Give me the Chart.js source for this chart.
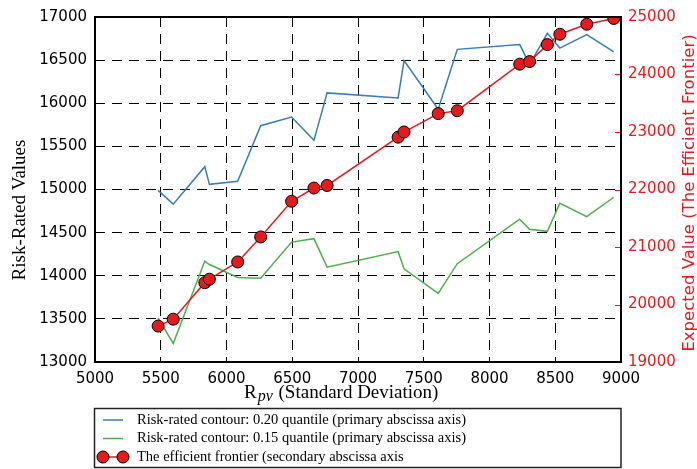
<!DOCTYPE html>
<html>
<head>
<meta charset="utf-8">
<script src="https://cdn.jsdelivr.net/npm/chart.js@4"></script>
<style>
html,body{margin:0;padding:0;background:#fff;}
#wrap{width:697px;height:469px;}
</style>
</head>
<body>
<div id="wrap"><canvas id="frontierChart" width="697" height="469"></canvas></div>
<script>
// standard deviation (primary abscissa) shared by all three series
const stdDev = [5480,5595,5835,5870,6085,6260,6495,6665,6765,7305,7350,7610,7755,8230,8305,8440,8535,8740,8945];
const quantile20 = [14990,14830,15265,15060,15095,15740,15840,15570,16120,16060,16495,15930,16625,16680,16450,16810,16640,16795,16595];
const quantile15 = [13510,13215,14170,14130,13980,13970,14390,14430,14100,14280,14080,13795,14140,14655,14540,14515,14840,14685,14910];
const frontier = [19625,19745,20380,20440,20740,21175,21795,22025,22070,22910,23000,23320,23370,24180,24225,24520,24700,24875,24975];

const seriesNames = [
  "Risk-rated contour: 0.20 quantile (primary abscissa axis)",
  "Risk-rated contour: 0.15 quantile (primary abscissa axis)",
  "The efficient frontier (secondary abscissa axis"
];

const BLUE = "#377eb8", GREEN = "#4daf4a", RED = "#e41a1c";
const SERIF = "'Liberation Serif', serif";
const SANS = "'DejaVu Sans', sans-serif";

function pts(ys){ return stdDev.map((x,i)=>({x:x,y:ys[i]})); }

// frame, titles, inward red ticks and the boxed legend
const decor = {
  id:"decor",
  afterDraw(chart){
    const ctx = chart.ctx, a = chart.chartArea;
    ctx.save();
    // right axis inward ticks
    const y2 = chart.scales.y2;
    ctx.strokeStyle = RED; ctx.lineWidth = 1;
    y2.ticks.forEach(t=>{
      const py = Math.round(y2.getPixelForValue(t.value))+0.5;
      ctx.beginPath(); ctx.moveTo(a.right-6,py); ctx.lineTo(a.right,py); ctx.stroke();
    });
    // frame
    ctx.strokeStyle = "#000"; ctx.lineWidth = 2;
    ctx.strokeRect(a.left, a.top, a.right-a.left, a.bottom-a.top);

    // y titles
    ctx.fillStyle = "#000";
    ctx.textAlign = "center"; ctx.textBaseline = "middle";
    ctx.save(); ctx.translate(20,210); ctx.rotate(-Math.PI/2);
    ctx.font = "19px " + SERIF; ctx.fillText("Risk-Rated Values",0,0);
    ctx.restore();
    ctx.save(); ctx.translate(690,193); ctx.rotate(-Math.PI/2);
    ctx.fillStyle = RED; ctx.font = "16.5px " + SANS;
    ctx.fillText("Expected Value (The Efficient Frontier)",0,0);
    ctx.restore();

    // x title with subscript
    ctx.textAlign = "left"; ctx.textBaseline = "alphabetic";
    let x = 244;
    ctx.font = "19px " + SERIF; ctx.fillText("R",x,398); x += ctx.measureText("R").width;
    ctx.font = "italic 16px " + SERIF; ctx.fillText("pv",x+1,401); x += ctx.measureText("pv").width + 2;
    ctx.font = "19px " + SERIF; ctx.fillText(" (Standard Deviation)",x,398);

    // legend box
    ctx.strokeStyle = "#222"; ctx.lineWidth = 1.5;
    ctx.strokeRect(94.5,408.5,526.5,59);
    const rows = [420,438.5,457];
    ctx.font = "14.5px " + SERIF; ctx.textBaseline = "middle";
    chart.data.datasets.forEach((ds,i)=>{
      const yy = rows[i];
      ctx.strokeStyle = ds.borderColor; ctx.lineWidth = 1.5;
      ctx.beginPath(); ctx.moveTo(103,yy); ctx.lineTo(123,yy); ctx.stroke();
      if (ds.pointRadius){
        [103,123].forEach(cx=>{
          ctx.beginPath(); ctx.arc(cx,yy,6,0,Math.PI*2);
          ctx.fillStyle = ds.pointBackgroundColor; ctx.fill();
          ctx.strokeStyle = "#000"; ctx.lineWidth = 1; ctx.stroke();
        });
      }
      ctx.fillStyle = "#000";
      ctx.fillText(ds.label,137,yy);
    });
    ctx.restore();
  }
};

new Chart(document.getElementById("frontierChart"),{
  type:"line",
  data:{
    datasets:[{
      label:seriesNames[0],
      data:pts(quantile20),
      yAxisID:"y",
      borderColor:BLUE,
      borderWidth:1.5,
      pointRadius:0,
      tension:0,
      order:3
    },{
      label:seriesNames[1],
      data:pts(quantile15),
      yAxisID:"y",
      borderColor:GREEN,
      borderWidth:1.5,
      pointRadius:0,
      tension:0,
      order:2
    },{
      label:seriesNames[2],
      data:pts(frontier),
      yAxisID:"y2",
      borderColor:RED,
      borderWidth:1.5,
      pointRadius:6,
      pointBackgroundColor:RED,
      pointBorderColor:"#000",
      pointBorderWidth:1,
      tension:0,
      order:1
    }]
  },
  options:{
    responsive:false,
    animation:false,
    layout:{padding:{top:13,left:0,right:0,bottom:0}},
    plugins:{legend:{display:false},tooltip:{enabled:false}},
    scales:{
      x:{
        type:"linear",
        min:5000,max:9000,
        afterFit:s=>{s.height=107;},
        grid:{color:"#000",lineWidth:1,drawTicks:false},
        border:{display:false,dash:[10,7]},
        ticks:{stepSize:500,padding:8,color:"#000",font:{family:SANS,size:15},
          callback:v=>String(v),maxRotation:0,autoSkip:false}
      },
      y:{
        position:"left",
        min:13000,max:17000,
        afterFit:s=>{s.width=95;},
        grid:{color:"#000",lineWidth:1,drawTicks:false},
        border:{display:false,dash:[10,7]},
        ticks:{stepSize:500,padding:8,color:"#000",font:{family:SANS,size:15},
          callback:v=>String(v)}
      },
      y2:{
        position:"right",
        min:19000,max:25000,
        afterFit:s=>{s.width=76;},
        grid:{drawOnChartArea:false,drawTicks:false},
        border:{display:false},
        ticks:{stepSize:1000,padding:7,color:RED,font:{family:SANS,size:15},
          callback:v=>String(v)}
      }
    }
  },
  plugins:[decor]
});
</script>
</body>
</html>
